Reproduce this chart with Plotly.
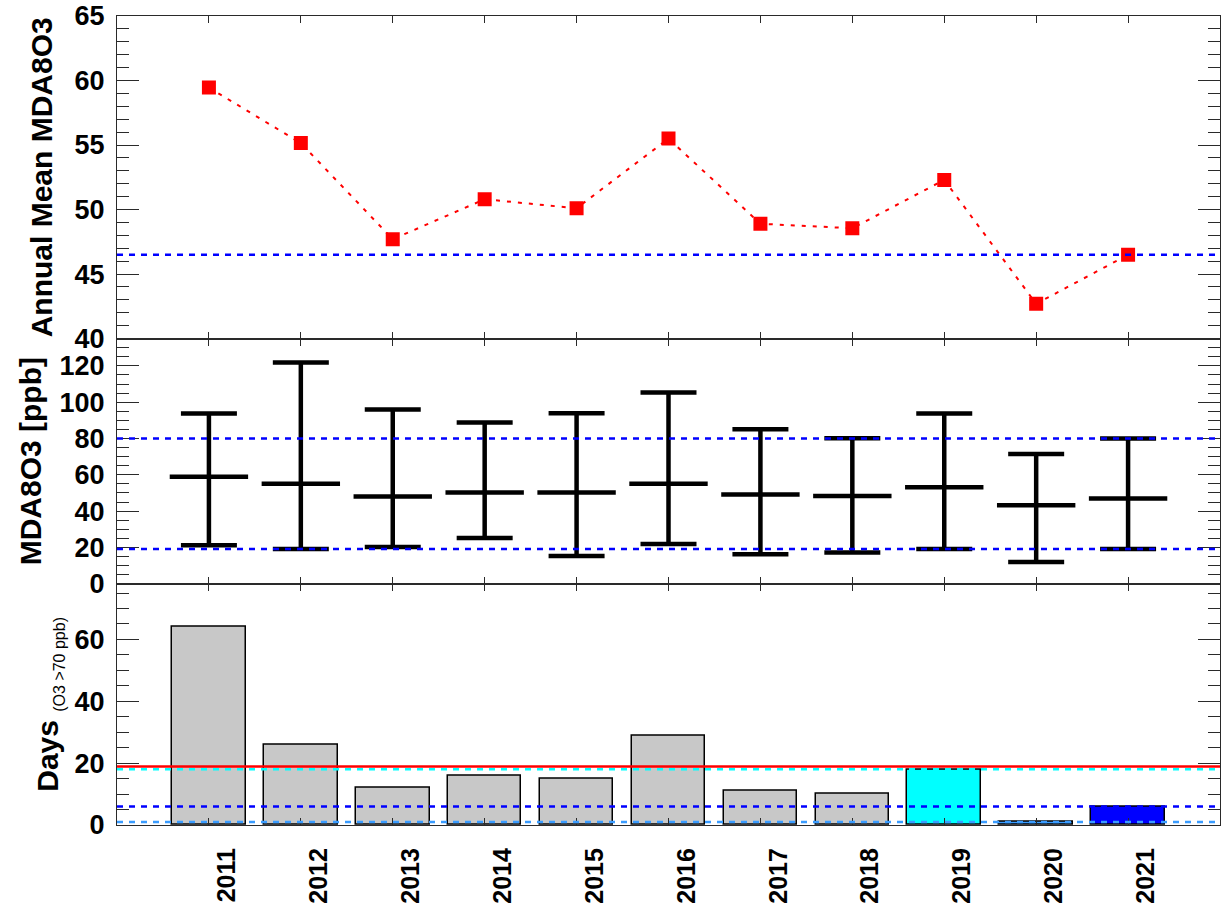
import numpy as np
import plotly.graph_objects as go
from plotly.subplots import make_subplots

# ---------------- data ----------------
years = [2011, 2012, 2013, 2014, 2015, 2016, 2017, 2018, 2019, 2020, 2021]
year_labels = [str(y) for y in years]

annual_mean = [59.45, 55.15, 47.7, 50.8, 50.1, 55.5, 48.9, 48.55, 52.3, 42.7, 46.5]

mda8_max = [93.8, 121.8, 95.9, 88.8, 93.9, 105.3, 85.1, 80.2, 93.7, 71.4, 80.0]
mda8_mid = [58.9, 55.1, 48.1, 50.2, 50.2, 55.1, 49.1, 48.3, 53.1, 43.2, 47.0]
mda8_min = [21.2, 19.2, 20.3, 25.2, 15.3, 21.9, 16.3, 17.2, 19.2, 12.0, 19.2]

days_over = [64, 26, 12, 16, 15, 29, 11, 10, 18, 1, 6]

# ---------------- styles ----------------
FONT = "Liberation Sans"
AXIS_COL = "#2a2a2a"
BLUE = "#0000ff"
CYAN = "#00ffff"
LBLUE = "#3a9cff"
GRAY = "#c8c8c8"
DASH = "6px,6px"

fig = make_subplots(rows=3, cols=1, shared_xaxes=False, vertical_spacing=0,
                    row_heights=[325, 247, 243])

# top panel: annual mean
fig.add_trace(go.Scatter(
    x=years, y=annual_mean, mode="lines+markers",
    line=dict(color="#ff0000", width=2, dash="4px,7px"),
    marker=dict(symbol="square", size=14, color="#ff0000", line=dict(width=0)),
    showlegend=False), row=1, col=1)
fig.add_hline(y=annual_mean[-1], line=dict(color=BLUE, width=2.5, dash=DASH), row=1, col=1)

# middle panel: min / mid / max
err_up = [mx - md for mx, md in zip(mda8_max, mda8_mid)]
err_dn = [md - mn for md, mn in zip(mda8_mid, mda8_min)]
fig.add_trace(go.Scatter(
    x=years, y=mda8_mid, mode="markers",
    marker=dict(symbol="line-ew", size=56, color="black", line=dict(width=4.5, color="black")),
    error_y=dict(type="data", symmetric=False, array=err_up, arrayminus=err_dn,
                 thickness=4.5, width=28, color="black"),
    showlegend=False), row=2, col=1)
fig.add_hline(y=mda8_max[-1], line=dict(color=BLUE, width=2.5, dash=DASH), row=2, col=1)
fig.add_hline(y=mda8_min[-1], line=dict(color=BLUE, width=2.5, dash=DASH), row=2, col=1)

# bottom panel: days > 70 ppb
special = {2019: CYAN, 2020: LBLUE, 2021: BLUE}
bar_colors = [special.get(y, GRAY) for y in years]
fig.add_trace(go.Bar(
    x=years, y=days_over, width=0.8,
    marker=dict(color=bar_colors, line=dict(color="black", width=1.5)),
    showlegend=False), row=3, col=1)
fig.add_hline(y=float(np.mean(days_over)), line=dict(color="#ff0000", width=2.5), row=3, col=1)
fig.add_hline(y=days_over[years.index(2019)], line=dict(color=CYAN, width=2.5, dash=DASH), row=3, col=1)
fig.add_hline(y=days_over[years.index(2021)], line=dict(color=BLUE, width=2.5, dash=DASH), row=3, col=1)
fig.add_hline(y=days_over[years.index(2020)], line=dict(color=LBLUE, width=2.5, dash=DASH), row=3, col=1)

tickfont = dict(family=FONT, size=27, color="black", weight="bold")
titlefont = dict(family=FONT, size=30, color="black", weight="bold")

common_x = dict(range=[2010, 2022], tickvals=years, ticktext=year_labels,
                ticks="inside", ticklen=7, tickwidth=1.2, tickcolor=AXIS_COL,
                showline=True, linecolor=AXIS_COL, linewidth=1.2, mirror="allticks",
                showgrid=False, zeroline=False)
for r in (1, 2, 3):
    fig.update_xaxes(common_x, row=r, col=1)
fig.update_xaxes(showticklabels=False, row=1, col=1)
fig.update_xaxes(showticklabels=False, row=2, col=1)
fig.update_xaxes(showticklabels=True, tickangle=-90,
                 tickfont=dict(family=FONT, size=25, color="black", weight="bold"),
                 ticklabelshift=18, ticklabelstandoff=12, row=3, col=1)

common_y = dict(ticks="inside", ticklen=22, tickwidth=1.2, tickcolor=AXIS_COL,
                showline=True, linecolor=AXIS_COL, linewidth=1.2, mirror="allticks",
                showgrid=False, zeroline=False, tickfont=tickfont, ticklabelstandoff=6,
                ticklabeloverflow="allow")

fig.update_yaxes(common_y, range=[40, 65], dtick=5, tick0=40,
                 minor=dict(dtick=1, ticks="inside", ticklen=12, tickcolor=AXIS_COL, tickwidth=1.2, showgrid=False),
                 title=dict(text="Annual Mean MDA8O3", font=titlefont, standoff=12),
                 row=1, col=1)
fig.update_yaxes(common_y, range=[0, 135], dtick=20, tick0=0,
                 minor=dict(dtick=5, ticks="inside", ticklen=12, tickcolor=AXIS_COL, tickwidth=1.2, showgrid=False),
                 title=dict(text="MDA8O3 [ppb]", font=titlefont, standoff=8),
                 row=2, col=1)
fig.update_yaxes(common_y, range=[0, 78], dtick=20, tick0=0,
                 minor=dict(dtick=5, ticks="inside", ticklen=12, tickcolor=AXIS_COL, tickwidth=1.2, showgrid=False),
                 title=dict(text='Days <sub><span style="font-weight:normal;font-size:16px">(O3 >70 ppb)</span></sub>',
                            font=titlefont, standoff=6),
                 row=3, col=1)

fig.update_layout(
    width=1222, height=905,
    margin=dict(l=117, r=1, t=14, b=76),
    plot_bgcolor="white", paper_bgcolor="white",
    showlegend=False, bargap=0,
    font=dict(family=FONT, color="black"),
)

fig.write_html("out.html")
